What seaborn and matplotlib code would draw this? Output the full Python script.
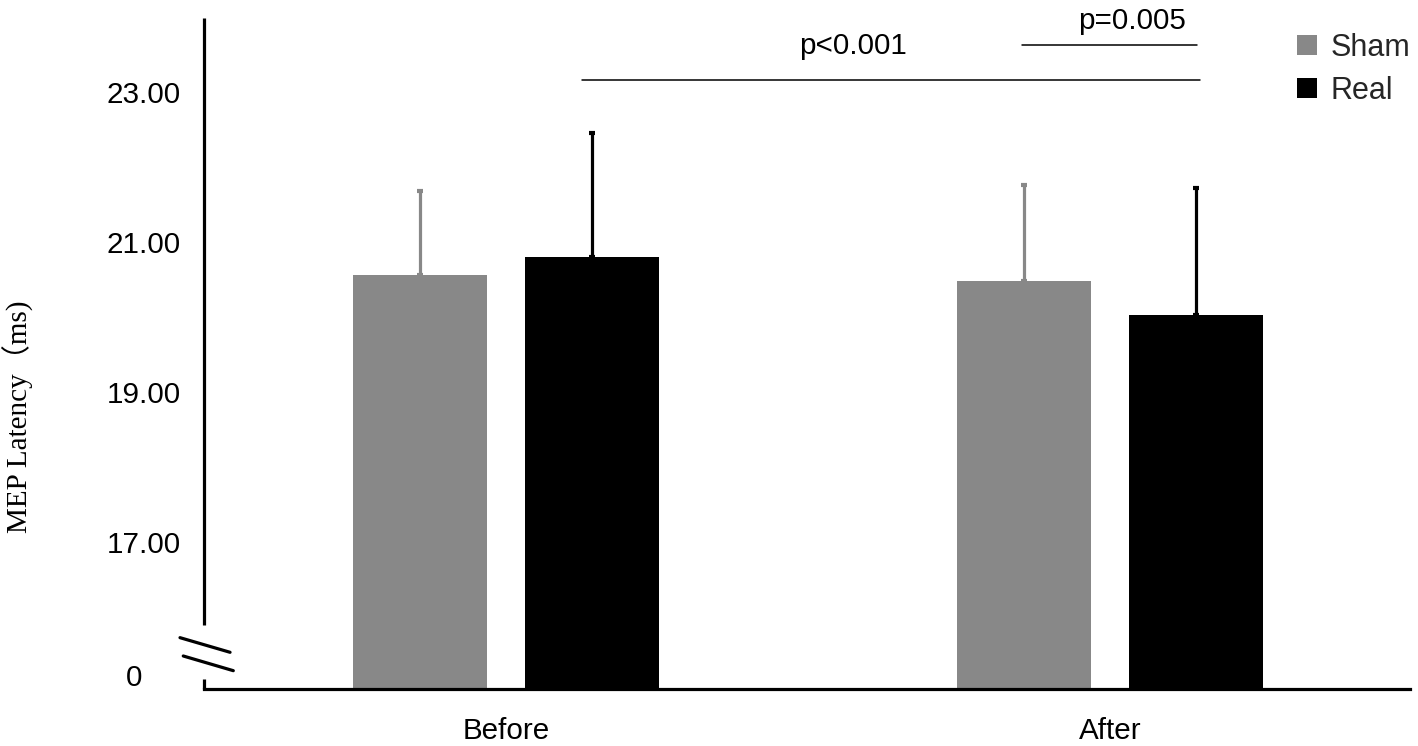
import matplotlib
matplotlib.use("Agg")
import matplotlib.pyplot as plt
import seaborn as sns
import pandas as pd
import numpy as np

conditions = ["Before", "After"]
groups = ["Sham", "Real"]
sham_means = [20.56, 20.48]
real_means = [20.80, 20.03]
sham_sd = [1.12, 1.28]
real_sd = [1.65, 1.69]
ytick_vals = [17, 19, 21, 23]
ytick_labels = ["17.00", "19.00", "21.00", "23.00"]
zero_label_pos = 15.19
sig_labels = ["p<0.001", "p=0.005"]
sig_levels = [23.16, 23.63]

colors = {"Sham": "#888888", "Real": "#000000"}
FS = 21.3

sns.set_theme(style="white")
plt.rcParams['font.family'] = ['Liberation Sans', 'DejaVu Sans']

df = pd.DataFrame({
    "condition": conditions * 2,
    "group": ["Sham"] * 2 + ["Real"] * 2,
    "value": sham_means + real_means,
})

fig = plt.figure(figsize=(14.18, 7.46), dpi=100)
ax = fig.add_axes([204/1418, 1 - 689/746, 1206/1418, 671/746])

sns.barplot(data=df, x="condition", y="value", hue="group", order=conditions,
            hue_order=groups, palette=colors, width=0.5695, gap=0.22,
            errorbar=None, ax=ax, saturation=1, linewidth=0)

sds = {"Sham": sham_sd, "Real": real_sd}
centers = {}
for g, cont in zip(groups, ax.containers):
    cs = []
    for bar, sd in zip(cont.patches, sds[g]):
        cx = bar.get_x() + bar.get_width() / 2
        h = bar.get_height()
        cs.append(cx)
        ax.errorbar([cx], [h], yerr=[[0], [sd]], fmt="none", ecolor=colors[g],
                    elinewidth=2.3, capsize=2, capthick=3, zorder=3)
    centers[g] = cs

ax.set_ylim(15.04, 23.99)
ax.set_xlim(-0.5, 1.497)

ax.set_yticks(ytick_vals)
ax.set_yticklabels(ytick_labels)
ax.tick_params(axis="y", length=0, pad=17, labelsize=FS, colors="black")
ax.tick_params(axis="x", length=0, pad=20, labelsize=FS, colors="black")
ax.set_xlabel("")
ax.set_ylabel("MEP Latency（ms)", family=["Liberation Serif", "Noto Sans CJK SC"],
              fontsize=21, color="black")
ax.yaxis.set_label_coords(-0.141, 0.405)

ax.text(-0.0514, zero_label_pos, "0", transform=ax.get_yaxis_transform(),
        ha="right", va="center", fontsize=FS, color="black")

for s in ["top", "right", "left"]:
    ax.spines[s].set_visible(False)
ax.spines["bottom"].set_linewidth(2.3)
ax.spines["bottom"].set_color("black")

# broken y-axis
ax.plot([0, 0], [0.0954, 1.0], transform=ax.transAxes, color="black", lw=2.3,
        clip_on=False, solid_capstyle="butt")
ax.plot([0, 0], [0.0, 0.0149], transform=ax.transAxes, color="black", lw=2.3,
        clip_on=False, solid_capstyle="butt")
ax.plot([-0.0199, 0.0216], [0.0765, 0.0547], transform=ax.transAxes, color="black",
        lw=2.3, clip_on=False)
ax.plot([-0.0172, 0.0243], [0.0492, 0.0273], transform=ax.transAxes, color="black",
        lw=2.3, clip_on=False)

# significance lines
x1a, x1b = centers["Real"][0] - 0.017, centers["Real"][1] + 0.007
ax.plot([x1a, x1b], [sig_levels[0]] * 2, color="black", lw=1.1, clip_on=False)
ax.text(0.575, sig_levels[1] - 0.02, sig_labels[0], ha="center", va="center",
        fontsize=FS, color="black")
x2a, x2b = centers["Sham"][1] - 0.003, centers["Real"][1] + 0.002
ax.plot([x2a, x2b], [sig_levels[1]] * 2, color="black", lw=1.1, clip_on=False)
ax.text((x2a + x2b) / 2 + 0.037, 23.95, sig_labels[1], ha="center", va="center",
        fontsize=FS, color="black", clip_on=False)

leg = ax.legend(loc="upper left", bbox_to_anchor=(1297/1418, 1 - 33/746),
                bbox_transform=fig.transFigure, frameon=False, fontsize=22,
                handlelength=0.65, handleheight=0.65, handletextpad=0.45,
                labelspacing=0.42, borderaxespad=0, borderpad=0)

fig.savefig("out.png", dpi=100)
